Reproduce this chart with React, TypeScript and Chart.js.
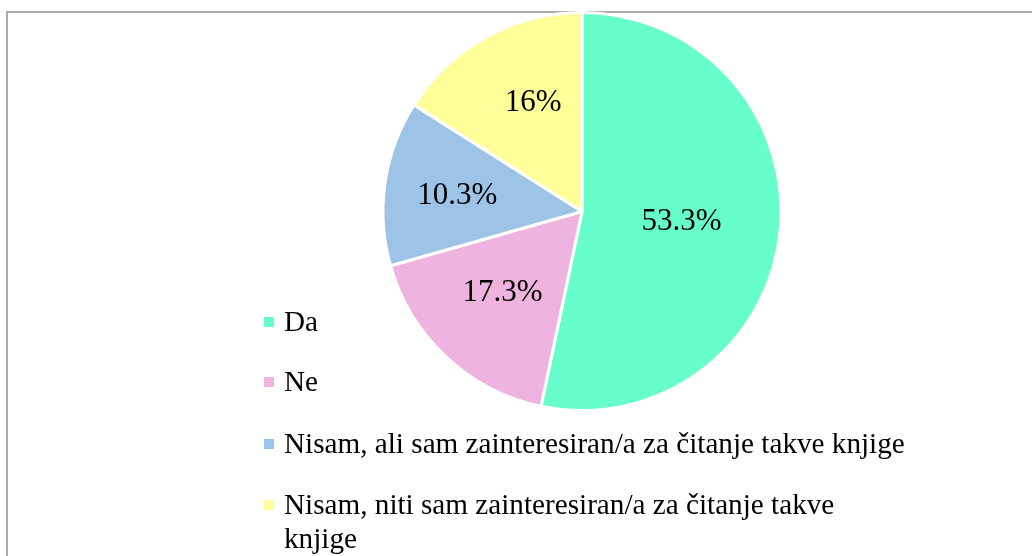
import React, { useEffect, useRef } from "react";
import { Chart, registerables } from "chart.js";

Chart.register(...registerables);

// Data
const categories: (string | string[])[] = [
  "Da",
  "Ne",
  "Nisam, ali sam zainteresiran/a za čitanje takve knjige",
  ["Nisam, niti sam zainteresiran/a za čitanje takve", "knjige"],
];
const values = [53.3, 17.3, 13.4, 16];
const valueLabels = ["53.3%", "17.3%", "10.3%", "16%"];
const colors = ["#66FFCC", "#EFB3DF", "#9DC3E6", "#FFFF99"];

// Label placement tweaks (style)
const labelRadiusFrac = [0.503, 0.57, 0.631, 0.6];
const labelAngleNudgeDeg = [0.15, 1.5, -1.2, 4.7];

const FONT = '"Liberation Serif", "Times New Roman", serif';

const framePlugin = {
  id: "frame",
  beforeDraw(chart: any) {
    const ctx = chart.ctx;
    ctx.save();
    ctx.fillStyle = "#ffffff";
    ctx.fillRect(0, 0, chart.width, chart.height);
    ctx.fillStyle = "#ADA9A9";
    ctx.fillRect(6, 11, 2, chart.height - 11);
    ctx.fillRect(6, 11, chart.width - 6, 2);
    ctx.restore();
  },
};

const labelPlugin = {
  id: "sliceLabels",
  afterDatasetsDraw(chart: any) {
    const ctx = chart.ctx;
    const meta = chart.getDatasetMeta(0);
    ctx.save();
    ctx.fillStyle = "#000000";
    ctx.font = `31px ${FONT}`;
    ctx.textAlign = "center";
    ctx.textBaseline = "middle";
    meta.data.forEach((arc: any, i: number) => {
      const p = arc.getProps(["x", "y", "startAngle", "endAngle", "outerRadius"], true);
      const mid = (p.startAngle + p.endAngle) / 2 + (labelAngleNudgeDeg[i] * Math.PI) / 180;
      const d = p.outerRadius * labelRadiusFrac[i];
      ctx.fillText(valueLabels[i], p.x + Math.cos(mid) * d, p.y + Math.sin(mid) * d);
    });
    ctx.restore();
  },
};

const legendPlugin = {
  id: "customLegend",
  afterDraw(chart: any) {
    const ctx = chart.ctx;
    const baselines = [331, 391, 453, 514];
    const lineGap = 33.5;
    ctx.save();
    ctx.font = `29.2px ${FONT}`;
    ctx.textAlign = "left";
    ctx.textBaseline = "alphabetic";
    categories.forEach((cat, i) => {
      const b = baselines[i];
      ctx.fillStyle = colors[i];
      ctx.fillRect(264, b - 14, 10, 10);
      ctx.fillStyle = "#000000";
      const lines = Array.isArray(cat) ? cat : [cat];
      lines.forEach((ln, j) => ctx.fillText(ln, 284, b + j * lineGap));
    });
    ctx.restore();
  },
};

export default function App() {
  const ref = useRef<HTMLCanvasElement | null>(null);
  useEffect(() => {
    if (!ref.current) return;
    const chart = new Chart(ref.current, {
      type: "pie",
      data: {
        labels: categories as any,
        datasets: [
          {
            data: values,
            backgroundColor: colors,
            borderColor: "#ffffff",
            borderWidth: 3,
          },
        ],
      },
      options: {
        responsive: false,
        maintainAspectRatio: false,
        animation: false,
        radius: 199,
        layout: { padding: { left: 182, right: 50, top: 10, bottom: 143 } },
        plugins: {
          legend: { display: false },
          tooltip: { enabled: false },
        },
      } as any,
      plugins: [framePlugin, labelPlugin, legendPlugin],
    });
    return () => chart.destroy();
  }, []);
  return (
    <div style={{ position: "fixed", left: 0, top: 0, width: 1032, height: 556, background: "#fff" }}>
      <canvas ref={ref} width={1032} height={556} style={{ display: "block", width: 1032, height: 556 }} />
    </div>
  );
}
